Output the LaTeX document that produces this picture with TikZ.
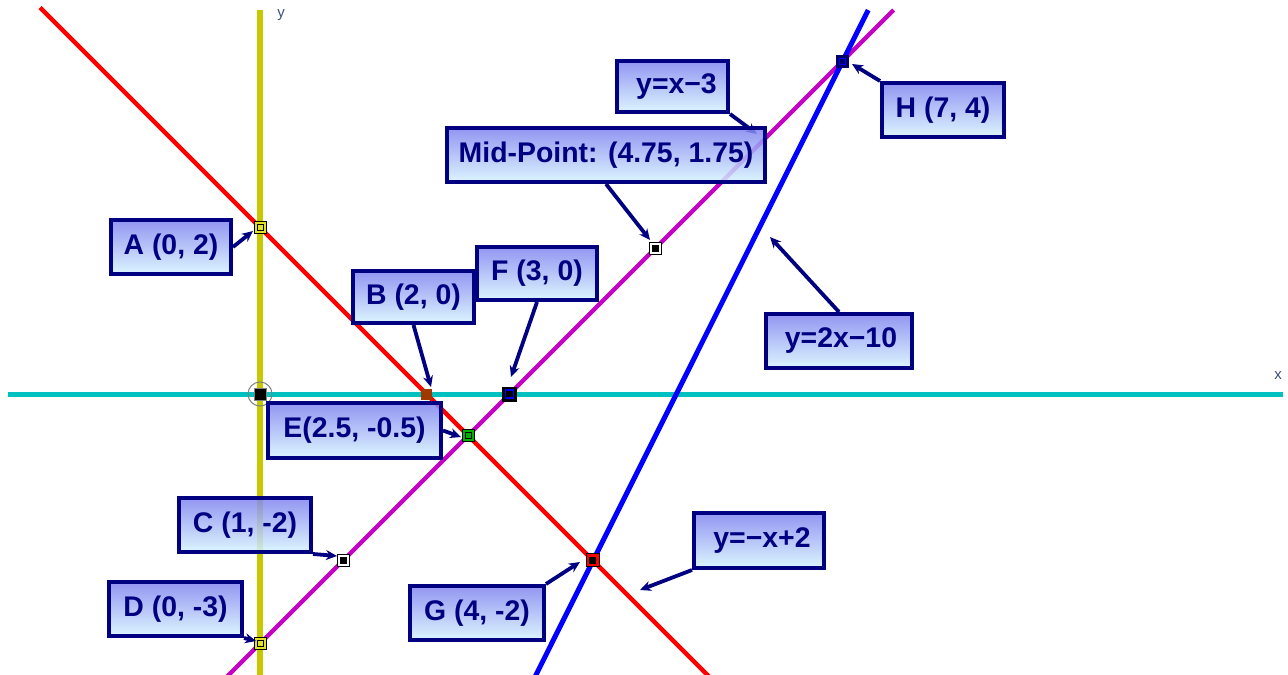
\documentclass[tikz,border=0pt]{standalone}
\usepackage{fontspec}
\setmainfont{Liberation Sans}
\usetikzlibrary{arrows.meta}
\definecolor{navy}{RGB}{0,0,128}
\definecolor{boxtop}{RGB}{128,132,240}
\definecolor{boxbot}{RGB}{214,244,255}
\definecolor{yaxiscol}{RGB}{200,200,0}
\definecolor{xaxiscol}{RGB}{0,192,192}
\definecolor{redcol}{RGB}{255,0,0}
\definecolor{magcol}{RGB}{196,0,196}
\definecolor{bluecol}{RGB}{0,0,255}
\definecolor{axlabel}{RGB}{60,80,130}
\definecolor{brown}{RGB}{160,56,0}
\definecolor{greencol}{RGB}{0,176,0}
\definecolor{yfill}{RGB}{225,225,40}
\tikzset{
  callout/.style={draw=navy, line width=2pt, top color=boxtop, bottom color=boxbot,
    fill opacity=0.85, text opacity=1, text=navy,
    font=\fontsize{14.2}{16}\selectfont\bfseries, inner sep=0pt, minimum height=27pt},
  pointer/.style={draw=navy, line width=1.9pt, -{Stealth[length=5.5pt,width=5pt]}},
  mk/.style={rectangle, inner sep=0pt, line width=0.5pt},
  axislbl/.style={text=axlabel, font=\fontsize{7.5}{8}\selectfont, inner sep=0pt}
}
\begin{document}
\begin{tikzpicture}[x=0.5pt,y=-0.5pt]
\useasboundingbox (0,0) rectangle (1288,674);
\fill[white] (0,0) rectangle (1288,674);

\begin{scope}[shift={(260,394)}, x=41.6pt, y=41.6pt]
  % axes and lines
  \draw[yaxiscol, line width=3pt] (0,-3.45) -- (0,4.615);
  \draw[xaxiscol, line width=2.5pt] (-3.03,0) -- (12.3,0);
  \draw[redcol, line width=2.2pt] (-2.644,4.644) -- (5.45,-3.45);
  \draw[magcol, line width=2.2pt] (-0.45,-3.45) -- (7.615,4.615);
  \draw[bluecol, line width=2.5pt] (3.28,-3.45) -- (7.31,4.615);

  % point markers
  \node[circle, draw=gray, line width=0.5pt, minimum size=12pt, inner sep=0pt] (pOc) at (0,0) {};
  \node[mk, draw=gray, fill=black, minimum size=6pt] (pO) at (0,0) {};
  \node[mk, draw=black, fill=yfill, minimum size=6pt] (pA) at (0,2) {};
  \node[mk, draw=black, minimum size=3pt] (pAi) at (0,2) {};
  \node[mk, fill=brown, minimum size=5.5pt] (pB) at (2,0) {};
  \node[mk, fill=black, minimum size=7.5pt] (pF) at (3,0) {};
  \node[mk, draw=bluecol, line width=0.8pt, minimum size=4pt] (pFi) at (3,0) {};
  \node[mk, draw=black, fill=greencol, minimum size=6pt] (pE) at (2.5,-0.5) {};
  \node[mk, draw=black, minimum size=3pt] (pEi) at (2.5,-0.5) {};
  \node[mk, draw=black, fill=white, minimum size=6pt] (pC) at (1,-2) {};
  \node[mk, fill=black, minimum size=3.5pt] (pCi) at (1,-2) {};
  \node[mk, draw=black, fill=yfill, minimum size=6pt] (pD) at (0,-3) {};
  \node[mk, draw=black, minimum size=3pt] (pDi) at (0,-3) {};
  \node[mk, draw=black, fill=redcol, minimum size=6.5pt] (pG) at (4,-2) {};
  \node[mk, fill=black, minimum size=3.5pt] (pGi) at (4,-2) {};
  \node[mk, fill=navy!80!black, minimum size=6.5pt] (pH) at (7,4) {};
  \node[mk, draw=bluecol, minimum size=3pt] (pHi) at (7,4) {};
  \node[mk, draw=black, fill=white, minimum size=6pt] (pM) at (4.75,1.75) {};
  \node[mk, fill=black, minimum size=3.5pt] (pMi) at (4.75,1.75) {};
\end{scope}

% axis labels
\node[axislbl] (ylbl) at (281,15) {y};
\node[axislbl] (xlbl) at (1278,376) {x};

% arrow tips
\coordinate (tA) at (253,231);
\coordinate (tB) at (431,387);
\coordinate (tF) at (511,377);
\coordinate (tM) at (650,240);
\coordinate (tL1) at (757,134);
\coordinate (tH) at (852,64);
\coordinate (tL2) at (770,237);
\coordinate (tE) at (461,437);
\coordinate (tC) at (337,556);
\coordinate (tD) at (256,641);
\coordinate (tG) at (580,562);
\coordinate (tL3) at (640,590);

% callout boxes
\node[callout, minimum width=60pt] (bA) at (171,247) {A (0, 2)};
\node[callout, minimum width=60.5pt, minimum height=26pt] (bB) at (413.5,297) {B (2, 0)};
\node[callout, minimum width=60pt, minimum height=26.5pt] (bF) at (537,273.5) {F (3, 0)};
\node[callout, minimum width=55.5pt, minimum height=25.5pt] (bL1) at (672.5,86.5) {\hspace*{4pt}y=x−3};
\node[callout, minimum width=61pt] (bH) at (943,110) {H (7, 4)};
\node[callout, minimum width=73pt] (bL2) at (839,341) {\hspace*{2pt}y=2x−10};
\node[callout, minimum width=86.5pt, minimum height=27.5pt] (bE) at (354.5,430.5) {E(2.5, -0.5)};
\node[callout, minimum width=66pt] (bC) at (245,525) {C (1, -2)};
\node[callout, minimum width=66.5pt] (bD) at (175.5,609) {D (0, -3)};
\node[callout, minimum width=67pt] (bG) at (477,613) {G (4, -2)};
\node[callout, minimum width=65pt, minimum height=27.5pt] (bL3) at (759,540.5) {\hspace*{3pt}y=−x+2};

% pointers
\draw[pointer] (bA.east) -- (tA);
\draw[pointer] (bB.south) -- (tB);
\draw[pointer] (bF.south) -- (tF);
\draw[pointer] (bL1.south east) -- (tL1);
\draw[pointer] (bH.north west) -- (tH);
\draw[pointer] (bL2.north) -- (tL2);
\draw[pointer] (bE.east) -- (tE);
\draw[pointer] (bC.south east) -- (tC);
\draw[pointer] (bD.south east) -- (tD);
\draw[pointer] (bG.north east) -- (tG);
\draw[pointer] (bL3.south west) -- (tL3);

% mid-point box drawn last (over the y=x-3 pointer)
\node[callout, minimum width=159pt] (bM) at (606,155) {Mid-Point: (4.75, 1.75)};
\draw[pointer] (bM.south) -- (tM);
\end{tikzpicture}
\end{document}
